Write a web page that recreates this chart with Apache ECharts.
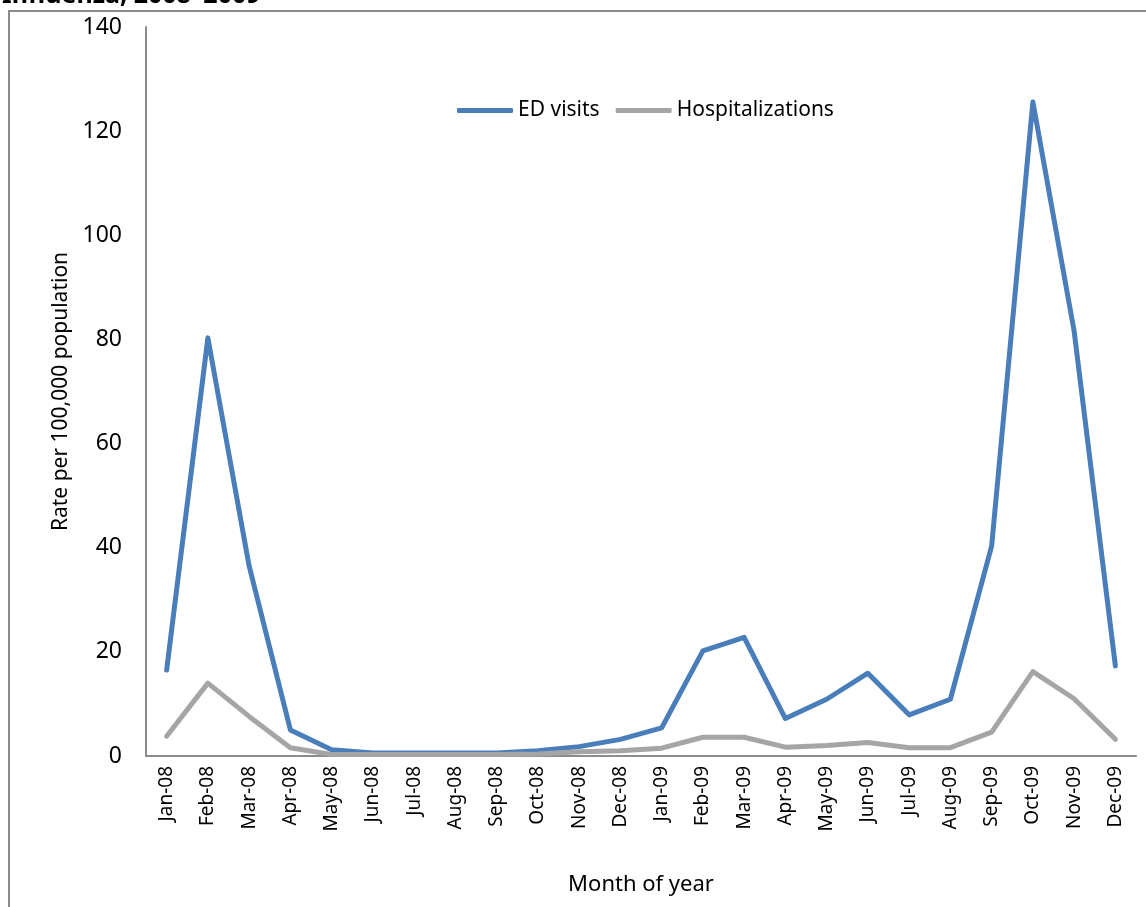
<!DOCTYPE html>
<html>
<head>
<meta charset="utf-8">
<script src="https://cdn.jsdelivr.net/npm/echarts@6/dist/echarts.min.js"></script>
<style>
  html, body { margin: 0; padding: 0; background: #fff; }
  #chart { width: 1146px; height: 907px; }
</style>
</head>
<body>
<div id="chart"></div>
<script>
// months on the x axis
const months = ['Jan-08', 'Feb-08', 'Mar-08', 'Apr-08', 'May-08', 'Jun-08', 'Jul-08', 'Aug-08',
    'Sep-08', 'Oct-08', 'Nov-08', 'Dec-08', 'Jan-09', 'Feb-09', 'Mar-09', 'Apr-09', 'May-09',
    'Jun-09', 'Jul-09', 'Aug-09', 'Sep-09', 'Oct-09', 'Nov-09', 'Dec-09'];

// rate per 100,000 population
const edVisits = [16.5, 80.3, 36.5, 5.0, 1.2, 0.6, 0.6, 0.6, 0.6, 1.0, 1.8, 3.2,
    5.4, 20.2, 22.8, 7.2, 10.9, 15.9, 7.9, 10.9, 40.3, 125.6, 81.6, 17.3];
const hospitalizations = [3.8, 14.0, 7.6, 1.6, 0.3, 0.3, 0.3, 0.3, 0.3, 0.4, 0.8, 1.0,
    1.5, 3.6, 3.6, 1.7, 2.0, 2.6, 1.6, 1.6, 4.6, 16.2, 11.0, 3.2];

const yTicks = [0, 20, 40, 60, 80, 100, 120, 140];

const font = 'Noto Sans';

const chart = echarts.init(document.getElementById('chart'));
chart.setOption({
    animation: false,
    backgroundColor: '#fff',
    textStyle: { fontFamily: font },
    graphic: [
        {
            type: 'rect',
            shape: { x: 9, y: 11, width: 1160, height: 920 },
            style: { fill: 'none', stroke: '#8c8c8c', lineWidth: 2 },
            silent: true
        },
        {
            // chart title, cut off by the top edge as in the source picture
            type: 'text',
            left: 2, top: -17,
            style: { text: 'Influenza, 2008\u20132009', font: 'bold 25px "Noto Sans"', fill: '#000' },
            silent: true
        }
    ],
    legend: {
        top: 95,
        left: 452,
        itemWidth: 56,
        itemHeight: 5,
        itemGap: 16,
        icon: 'roundRect',
        textStyle: { fontSize: 21, color: '#000', fontFamily: font },
        data: ['ED visits', 'Hospitalizations']
    },
    grid: { left: 146, right: 10, top: 27, bottom: 151, containLabel: false },
    xAxis: {
        type: 'category',
        data: months,
        boundaryGap: true,
        name: 'Month of year',
        nameLocation: 'middle',
        nameGap: 118,
        nameTextStyle: { fontSize: 22, color: '#000' },
        axisLine: { lineStyle: { color: '#8c8c8c', width: 2 } },
        axisTick: { show: false },
        axisLabel: { rotate: 90, fontSize: 19, color: '#000', margin: 10, interval: 0 }
    },
    yAxis: {
        type: 'value',
        min: yTicks[0],
        max: yTicks[yTicks.length - 1],
        interval: 20,
        name: 'Rate per 100,000 population',
        nameLocation: 'middle',
        nameGap: 74,
        nameTextStyle: { fontSize: 21, color: '#000' },
        axisLine: { show: true, lineStyle: { color: '#8c8c8c', width: 2 } },
        axisTick: { show: false },
        splitLine: { show: false },
        axisLabel: { fontSize: 23, color: '#000', margin: 24 }
    },
    series: [
        {
            name: 'ED visits',
            type: 'line',
            data: edVisits,
            symbol: 'none',
            color: '#4a7ebb',
            lineStyle: { width: 5, color: '#4a7ebb', cap: 'round', join: 'round' }
        },
        {
            name: 'Hospitalizations',
            type: 'line',
            data: hospitalizations,
            symbol: 'none',
            color: '#a5a5a5',
            lineStyle: { width: 5, color: '#a5a5a5', cap: 'round', join: 'round' }
        }
    ]
});
</script>
</body>
</html>
